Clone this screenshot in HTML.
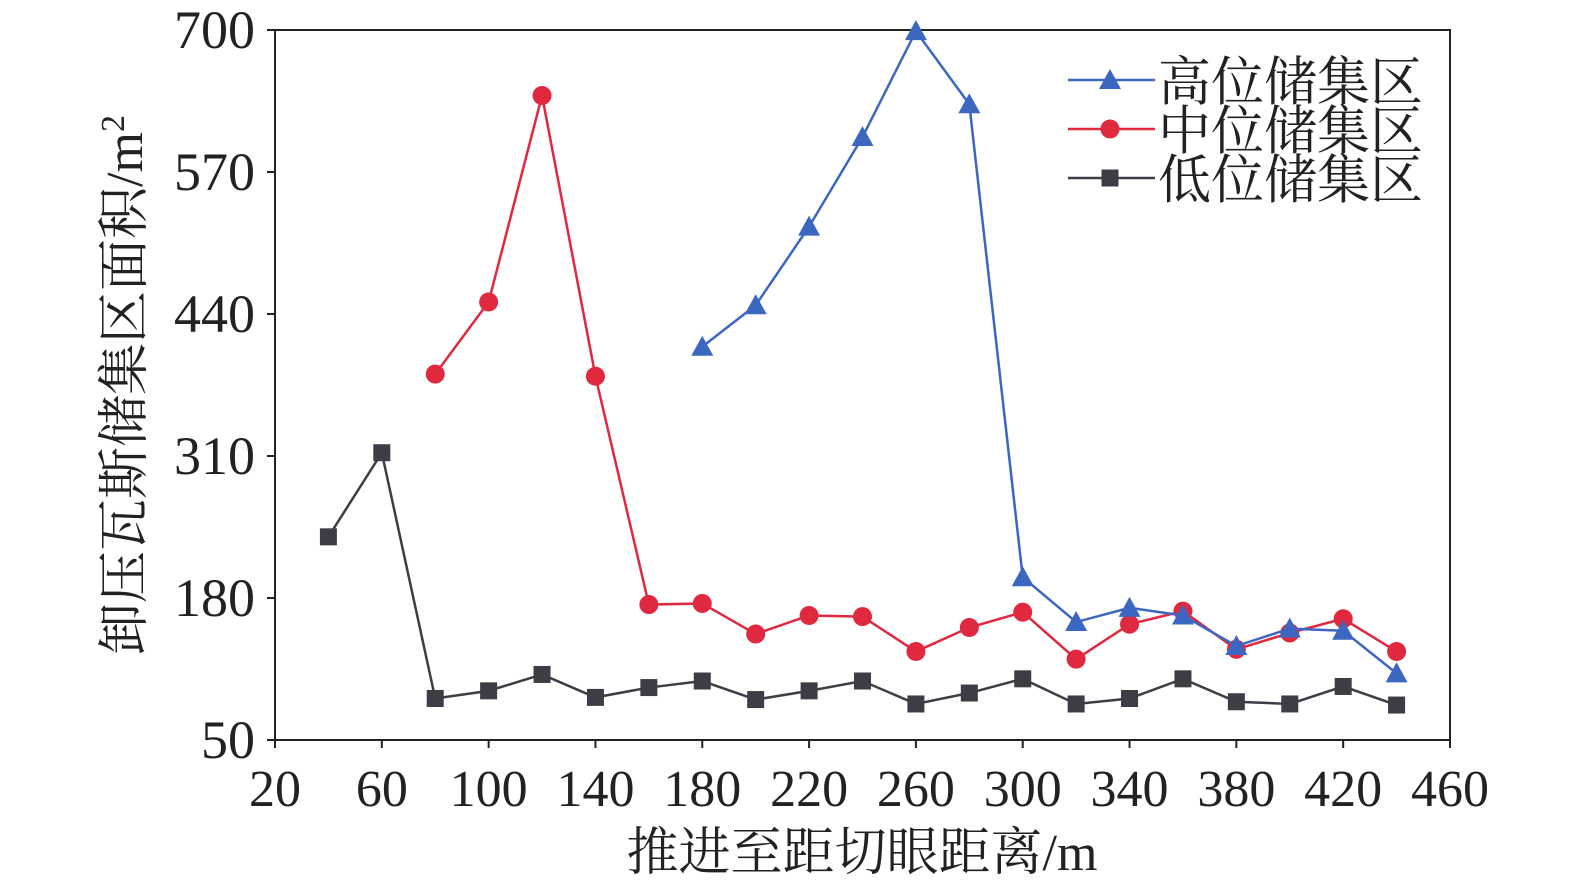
<!DOCTYPE html>
<html><head><meta charset="utf-8"><style>
body{margin:0;background:#fff;}
svg text{font-family:"Liberation Serif","Noto Serif CJK SC",serif;fill:#222;}
</style></head><body>
<svg id="chart" width="1575" height="891" viewBox="0 0 1575 891" xmlns="http://www.w3.org/2000/svg"></svg>
<script>
const xCats=[20,40,60,80,100,120,140,160,180,200,220,240,260,280,300,320,340,360,380,400,420,440];
const xTicks=[20,60,100,140,180,220,260,300,340,380,420,460];
const yTicks=[50,180,310,440,570,700];
const highX=[180,200,220,240,260,280,300,320,340,360,380,400,420,440];
const highV=[410,448,520,602,699,632,199,158,171,164,136,152,150,111];
const midX=[80,100,120,140,160,180,200,220,240,260,280,300,320,340,360,380,400,420,440];
const midV=[385,451,640,383,174,175,147,164,163,131,153,167,124,156,168,133,148,161,131];
const lowX=[40,60,80,100,120,140,160,180,200,220,240,260,280,300,320,340,360,380,400,420,440];
const lowV=[236,313,88,95,110,89,98,104,87,95,104,83,93,106,83,88,106,85,83,99,82];

const L=275,R=1450,T=30,B=740;
const xs=v=>L+(v-20)/(460-20)*(R-L);
const ys=v=>B-(v-50)/(700-50)*(B-T);
const svg=document.getElementById('chart');
const NS='http://www.w3.org/2000/svg';
function mk(tag,attrs,parent){const e=document.createElementNS(NS,tag);for(const k in attrs)e.setAttribute(k,attrs[k]);(parent||svg).appendChild(e);return e;}

const frame=mk('rect',{x:L,y:T,width:R-L,height:B-T,fill:'none',stroke:'#222','stroke-width':2});



xTicks.forEach(t=>{
  const ln=mk('line',{x1:xs(t),x2:xs(t),y1:B,y2:B+8,stroke:'#222','stroke-width':2});
  
  
  const tx=mk('text',{x:xs(t),y:B+66,'text-anchor':'middle','font-size':52});
  tx.textContent=t;
  
  
});
yTicks.forEach(t=>{
  const ln=mk('line',{x1:L-8,x2:L,y1:ys(t),y2:ys(t),stroke:'#222','stroke-width':2});
  
  
  const tx=mk('text',{x:L-20,y:ys(t)+18,'text-anchor':'end','font-size':54});
  tx.textContent=t;
  
  
});

const xt=mk('text',{x:862,y:870,'text-anchor':'middle','font-size':52});
xt.textContent='推进至距切眼距离/m';


const yt=mk('text',{x:0,y:0,'text-anchor':'middle','font-size':52,transform:'translate(142,385) rotate(-90)'});
yt.innerHTML='卸压瓦斯储集区面积/m<tspan font-size="34" dy="-18">2</tspan>';



function marker(type,x,y,color,parent){
  let m;
  if(type==='tri') m=mk('polygon',{points:`${x},${y-11} ${x-11},${y+9} ${x+11},${y+9}`,fill:color},parent);
  else if(type==='circ') m=mk('circle',{cx:x,cy:y,r:9.5,fill:color},parent);
  else m=mk('rect',{x:x-8.5,y:y-8.5,width:17,height:17,fill:color},parent);
  return m;
}
function series(name,xv,vals,color,type){
  const g=mk('g',{});
  
  
  const pl=mk('polyline',{points:xv.map((x,i)=>xs(x)+','+ys(vals[i])).join(' '),fill:'none',stroke:color,'stroke-width':2.5},g);
  
  
  xv.forEach((x,i)=>{
    const m=marker(type,xs(x),ys(vals[i]),color,g);
    
    
  });
}
series('low-zone',lowX,lowV,'#3d3d45','sq');
series('mid-zone',midX,midV,'#e0283f','circ');
series('high-zone',highX,highV,'#3b67c1','tri');

const leg=[['高位储集区','#3b67c1','tri'],['中位储集区','#e0283f','circ'],['低位储集区','#3d3d45','sq']];
leg.forEach((d,i)=>{
  const y=80+i*49;
  const g=mk('g',{});
  
  
  mk('line',{x1:1068,x2:1155,y1:y,y2:y,stroke:d[1],'stroke-width':2.5},g);
  marker(d[2],1110,y,d[1],g);
  const t=mk('text',{x:1158,y:y+20,'font-size':53},g);
  t.textContent=d[0];
});
</script>
</body></html>
